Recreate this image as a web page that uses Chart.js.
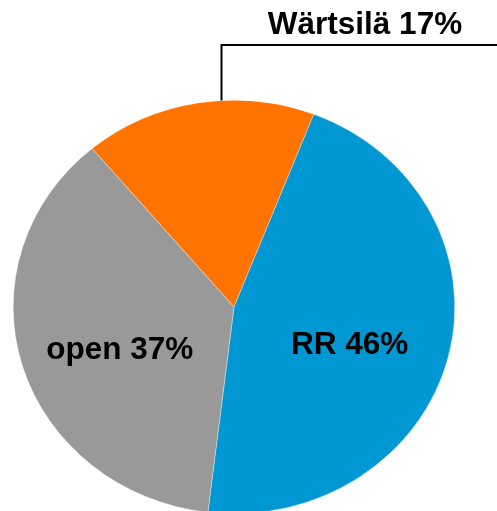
<!DOCTYPE html>
<html>
<head>
<meta charset="utf-8">
<script src="https://cdn.jsdelivr.net/npm/chart.js@4"></script>
<style>
  html, body { margin: 0; padding: 0; background: #fff; overflow: hidden; }
  #wrap { width: 497px; height: 511px; overflow: hidden; }
</style>
</head>
<body>
<div id="wrap"><canvas id="grafico-tarta" width="497" height="540"></canvas></div>
<script>
// datos del gráfico
const categorias = ["Wärtsilä", "RR", "open"];
const valores = [17, 46, 37];
const colores = ["#FF7300", "#0097D2", "#999999"];

const escalaY = 207 / 221; // la tarta del original está algo achatada
const fuente = 'bold 31.5px "Liberation Sans", Arial, sans-serif';

// aplasta la tarta en vertical alrededor de su centro
const aplastar = {
    id: "aplastar",
    beforeDatasetsDraw(chart) {
        const a = chart.chartArea;
        const cy = (a.top + a.bottom) / 2;
        const ctx = chart.ctx;
        ctx.save();
        ctx.translate(0, cy);
        ctx.scale(1, escalaY);
        ctx.translate(0, -cy);
    },
    afterDatasetsDraw(chart) {
        chart.ctx.restore();
    }
};

// etiquetas con nombre y porcentaje
const etiquetas = {
    id: "etiquetas",
    afterDraw(chart) {
        const ctx = chart.ctx;
        const meta = chart.getDatasetMeta(0);
        ctx.save();
        ctx.font = fuente;
        ctx.fillStyle = "#000";
        ctx.textAlign = "center";
        meta.data.forEach(function (arco, i) {
            const texto = categorias[i] + " " + valores[i] + "%";
            const cx = arco.x, cy = arco.y, r = arco.outerRadius;
            if (i === 0) {
                // etiqueta exterior con línea guía
                const ang = arco.startAngle + 0.6 * (arco.endAngle - arco.startAngle);
                const px = cx + Math.cos(ang) * r;
                const py = cy + Math.sin(ang) * r * escalaY;
                ctx.strokeStyle = "#000";
                ctx.lineWidth = 2;
                ctx.beginPath();
                ctx.moveTo(Math.round(px) + 0.5, py);
                ctx.lineTo(Math.round(px) + 0.5, 45);
                ctx.lineTo(chart.width, 45);
                ctx.stroke();
                ctx.textBaseline = "alphabetic";
                ctx.fillText(texto, 365, 34);
            } else {
                const mid = (arco.startAngle + arco.endAngle) / 2;
                const x = cx + Math.cos(mid) * r * 0.54;
                const y = cy + Math.sin(mid) * r * 0.54 * escalaY;
                ctx.textBaseline = "middle";
                ctx.fillText(texto, x, y + 11);
            }
        });
        ctx.restore();
    }
};

const ctx = document.getElementById("grafico-tarta").getContext("2d");
new Chart(ctx, {
    type: "pie",
    data: {
        labels: categorias,
        datasets: [{
            data: valores,
            backgroundColor: colores,
            borderColor: "rgba(255,255,255,0.7)",
            borderWidth: 0.5
        }]
    },
    options: {
        responsive: false,
        animation: false,
        devicePixelRatio: 1,
        rotation: -40,
        layout: { padding: { left: 13, right: 42, top: 86, bottom: 12 } },
        plugins: {
            legend: { display: false },
            tooltip: { enabled: false }
        }
    },
    plugins: [aplastar, etiquetas]
});
</script>
</body>
</html>
